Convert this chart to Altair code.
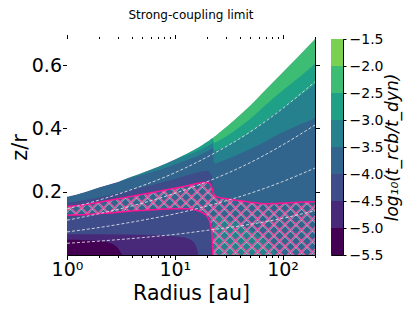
import math
import altair as alt
import pandas as pd

FONT = "DejaVu Sans"

# ---------------- values ----------------
# common radius grid [au]
R = [1, 1.5, 2, 2.5, 3, 4, 5, 7, 10, 13, 15, 16.5, 18, 20, 21, 22, 22.6, 23.2,
     25, 30, 40, 50, 70, 100, 140, 200]
# upper edge of the computed region (z/r)
top = [0.184, 0.200, 0.214, 0.224, 0.232, 0.248, 0.260, 0.279, 0.302, 0.321,
       0.332, 0.340, 0.348, 0.358, 0.363, 0.368, 0.371, 0.374, 0.383, 0.405,
       0.442, 0.472, 0.523, 0.577, 0.628, 0.683]
# hatched region: upper boundary (all radii) and lower boundary (R <= 22.6)
hatch_hi = [0.153, 0.160, 0.167, 0.173, 0.178, 0.186, 0.192, 0.201, 0.211, 0.219,
            0.224, 0.227, 0.229, 0.229, 0.226, 0.215, 0.200, 0.190, 0.183, 0.178,
            0.172, 0.167, 0.162, 0.164, 0.167, 0.168]
hatch_lo = [0.126, 0.128, 0.131, 0.133, 0.135, 0.139, 0.141, 0.144, 0.146, 0.146,
            0.144, 0.140, 0.134, 0.122, 0.108, 0.075, 0.0]
# contour boundaries, inner disc (R <= 22.6)
b3_top = [0.165, 0.175, 0.183, 0.190, 0.196, 0.206, 0.214, 0.226, 0.240, 0.252,
          0.258, 0.262, 0.265, 0.266, 0.262, 0.250, 0.200]
b5_left = [0.232, 0.244, 0.254, 0.268, 0.286, 0.300, 0.308, 0.314, 0.320, 0.328,
           0.332, 0.336, 0.338]            # R from 3 to 22.6
b6_left = [0.302, 0.316, 0.324, 0.330, 0.336, 0.344, 0.348, 0.352, 0.354]  # R 10..22.6
# contour boundaries, outer disc (R from 22.6 to 200)
b5_right = [0.338, 0.290, 0.292, 0.302, 0.320, 0.335, 0.360, 0.388, 0.410, 0.433]
b6_right = [0.354, 0.330, 0.333, 0.345, 0.368, 0.388, 0.425, 0.465, 0.500, 0.540]
b7_right = [0.371, 0.355, 0.360, 0.375, 0.405, 0.430, 0.475, 0.520, 0.560, 0.605]
# closed low-altitude contours
R_b1 = [1, 1.5, 2, 2.5, 2.8, 3.0, 3.15, 3.25]
z_b1 = [0.048, 0.047, 0.044, 0.038, 0.030, 0.020, 0.008, 0.0]
R_b2 = [1, 2, 5, 8, 11, 13, 14.5, 15.5, 16.2, 16.5]
z_b2 = [0.066, 0.066, 0.064, 0.062, 0.058, 0.053, 0.045, 0.033, 0.015, 0.0]
R_br = [22.6, 25, 30, 40, 50, 60, 70, 80, 88]
z_br = [0.125, 0.122, 0.113, 0.097, 0.080, 0.062, 0.043, 0.020, 0.0]
# dashed white curves
R_d = [1, 2, 5, 10, 20, 50, 100, 200]
dash1 = [0.037, 0.044, 0.055, 0.065, 0.078, 0.097, 0.116, 0.140]
dash2 = [0.073, 0.087, 0.110, 0.130, 0.155, 0.195, 0.232, 0.275]
dash3 = [0.110, 0.131, 0.164, 0.195, 0.232, 0.292, 0.348, 0.411]
dash4 = [0.146, 0.174, 0.219, 0.260, 0.310, 0.389, 0.463, 0.548]
# colour bar
levels = [-5.5, -5.0, -4.5, -4.0, -3.5, -3.0, -2.5, -2.0, -1.5]
colors = ["#440154", "#482979", "#3e4c8a", "#32658e", "#26818e", "#1fa188",
          "#3dbc74", "#7ad151"]

# ---------------- chart ----------------
Y_MAX = 0.683
X_MIN, X_MAX = 1, 200
W, H = 248, 216
PINK = "#ff1493"

xs = alt.Scale(type="log", domain=[X_MIN, X_MAX], nice=False)
ys = alt.Scale(domain=[0, Y_MAX], nice=False, zero=False)


def band(rs, lo, hi, color):
    df = pd.DataFrame({"R": rs, "lo": lo, "hi": hi})
    return alt.Chart(df).mark_area(color=color, interpolate="monotone", clip=True).encode(
        x=alt.X("R:Q", scale=xs, axis=None),
        y=alt.Y("lo:Q", scale=ys, axis=None),
        y2="hi:Q",
    )


zeros = lambda n: [0.0] * n

# hatch texture: 45-degree lines across the plot (covered outside the hatched region)
lx = math.log10(X_MAX)
to_R = lambda px: 10 ** (px / W * lx)
rows = []
step = 11
for k in range(-H // step - 2, W // step + 3):
    x0 = k * step
    for off, kind in ((0, "pink"), (1.6, "white")):
        a = x0 + off
        rows.append({"R": to_R(a), "z": 0.0, "R2": to_R(a + H), "z2": Y_MAX, "k": kind})
        rows.append({"R": to_R(a - 2 * off), "z": Y_MAX, "R2": to_R(a - 2 * off + H), "z2": 0.0, "k": kind})
hatch_df = pd.DataFrame(rows)


def hatch(kind, color, width, opacity):
    return alt.Chart(hatch_df[hatch_df.k == kind]).mark_rule(
        color=color, strokeWidth=width, opacity=opacity, clip=True
    ).encode(
        x=alt.X("R:Q", scale=xs, axis=None),
        y=alt.Y("z:Q", scale=ys, axis=None),
        x2="R2:Q", y2="z2:Q",
    )


n = len(R)
layers = [
    band(R, zeros(n), top, colors[3]),
    band(R_br, zeros(len(R_br)), z_br, colors[4]),
    hatch("white", "#ffffff", 0.8, 0.7),
    hatch("pink", "#f7509e", 1.2, 1.0),
    band(R, hatch_hi, top, colors[3]),
    band(R[:17], hatch_hi[:17], b3_top, colors[2]),
    band(R[4:17], b5_left, top[4:17], colors[4]),
    band(R[8:17], b6_left, top[8:17], colors[5]),
    band(R[16:], b5_right, top[16:], colors[4]),
    band(R[16:], b6_right, top[16:], colors[5]),
    band(R[16:], b7_right, top[16:], colors[6]),
    band(R[:17], zeros(17), hatch_lo, colors[2]),
    band(R_b2, zeros(len(R_b2)), z_b2, colors[1]),
    band(R_b1, zeros(len(R_b1)), z_b1, colors[0]),
    band(R, top, [Y_MAX] * n, "#ffffff"),
]

# hatch outline
out_hi = pd.DataFrame({"R": R, "z": hatch_hi})
out_lo = pd.DataFrame({"R": R[:17], "z": hatch_lo})
for d in (out_hi, out_lo):
    layers.append(alt.Chart(d).mark_line(color=PINK, strokeWidth=1.5, interpolate="monotone", clip=True).encode(
        x=alt.X("R:Q", scale=xs, axis=None), y=alt.Y("z:Q", scale=ys, axis=None)))

# dashed curves
dash_df = pd.concat([pd.DataFrame({"R": R_d, "z": v, "id": i}) for i, v in
                     enumerate([dash1, dash2, dash3, dash4])])
layers.append(alt.Chart(dash_df).mark_line(color="#e6e6e6", strokeWidth=1, strokeDash=[3, 2],
                                           interpolate="monotone", opacity=0.85, clip=True).encode(
    x=alt.X("R:Q", scale=xs, axis=None), y=alt.Y("z:Q", scale=ys, axis=None), detail="id:N"))

# axes
xticks = [1, 2, 3, 4, 5, 6, 7, 8, 9, 10, 20, 30, 40, 50, 60, 70, 80, 90, 100, 200]
major = "datum.value == 1 || datum.value == 10 || datum.value == 100"
tick_size = {"condition": {"test": major, "value": 4.5}, "value": 2.5}
ax_df = pd.DataFrame({"R": [X_MIN], "z": [0.1]})
layers.append(alt.Chart(ax_df).mark_point(opacity=0).encode(
    x=alt.X("R:Q", scale=xs, title="Radius [au]", axis=alt.Axis(
        values=xticks, labelExpr="datum.value == 1 ? '10⁰' : datum.value == 10 ? '10¹' : datum.value == 100 ? '10²' : ''",
        tickSize=tick_size, labelFontSize=19, titleFontSize=20.5, labelPadding=1, titlePadding=4,
        titleFontWeight="normal", domain=False, grid=False, labelFlush=False, tickColor="black")),
    y=alt.Y("z:Q", scale=ys, title="z/r", axis=alt.Axis(
        values=[0.2, 0.4, 0.6], format=".1f", tickSize=4.5, labelFontSize=19, titleFontSize=21,
        labelPadding=1, titlePadding=1, titleFontWeight="normal", domain=False, grid=False,
        tickColor="black")),
))
layers.append(alt.Chart(ax_df).mark_point(opacity=0).encode(
    x=alt.X("R:Q", scale=xs, axis=alt.Axis(orient="top", values=xticks, labels=False, tickSize=tick_size,
                                          domain=False, grid=False, title=None, tickColor="black")),
    y=alt.Y("z:Q", scale=ys, axis=alt.Axis(orient="right", values=[0.2, 0.4, 0.6], labels=False, tickSize=4.5,
                                          domain=False, grid=False, title=None, tickColor="black")),
))

main = alt.layer(*layers).resolve_axis(x="independent", y="independent").properties(
    width=W, height=H,
    title=alt.TitleParams("Strong-coupling limit", fontSize=12, fontWeight="normal", font=FONT, offset=12),
)

cb_df = pd.DataFrame({"lo": levels[:-1], "hi": levels[1:], "c": colors})
cbar = alt.Chart(cb_df).mark_rect().encode(
    y=alt.Y("lo:Q", scale=alt.Scale(domain=[-5.5, -1.5], nice=False, zero=False),
            title="log₁₀(t_rcb/t_dyn)",
            axis=alt.Axis(orient="right", values=levels, format=".1f", tickSize=3, labelFontSize=14,
                          labelPadding=3, titleFontSize=17, titleFontStyle="italic", titleFontWeight="normal",
                          titleAngle=270, titleBaseline="top", titlePadding=2, domain=False, grid=False,
                          tickColor="black")),
    y2="hi:Q",
    color=alt.Color("c:N", scale=None),
).properties(width=12, height=H)

chart = alt.hconcat(main, cbar, spacing=9).configure(
    font=FONT, padding={"left": 0, "top": 0, "right": 2, "bottom": 0}
).configure_view(stroke="black", strokeWidth=1).configure_axis(
    labelColor="black", titleColor="black", labelFont=FONT, titleFont=FONT
)

chart.save("out.html", embed_options={"renderer": "svg", "actions": False})
